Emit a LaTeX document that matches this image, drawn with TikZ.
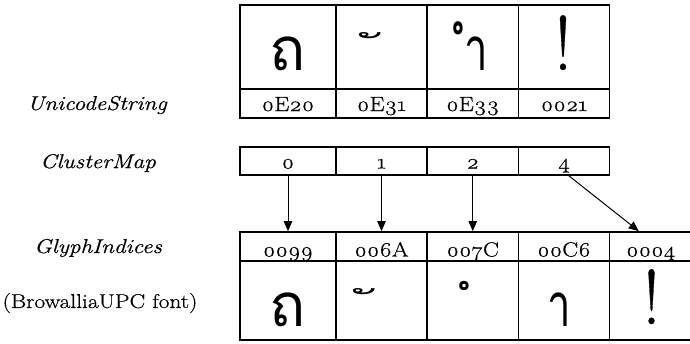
\documentclass[tikz,border=0pt]{standalone}
\usepackage{fontspec}
\setmainfont{Latin Modern Roman}[Numbers=OldStyle, FakeStretch=1.17, FakeBold=0.5]
\newfontfamily\thaifont[Script=Thai]{Loma}
\usetikzlibrary{arrows.meta}
\begin{document}
\begin{tikzpicture}[x=1pt,y=-1pt,
  box/.style={draw=black, line width=1.8pt, inner sep=0pt, font=\fontsize{20.5}{24}\selectfont, text height=16pt, text depth=1pt},
  gbox/.style={box, text height=20pt, text depth=0pt},
  lbl/.style={font=\fontsize{20}{24}\selectfont\itshape},
  glyph/.style={font=\thaifont\fontsize{60}{70}\selectfont, inner sep=0pt, anchor=base, text depth=0pt},
  bang/.style={font=\fontsize{77}{80}\selectfont, inner sep=0pt, anchor=base, text depth=0pt},
  arr/.style={line width=1pt, -{Triangle[length=10pt,width=8.5pt]}}]
\useasboundingbox (0,0) rectangle (690,343);
% UnicodeString table
\node[box, minimum width=96pt, minimum height=84pt] (u0) at (288,47) {};
\node[box, minimum width=91pt, minimum height=84pt] (u1) at (381.5,47) {};
\node[box, minimum width=91.5pt, minimum height=84pt] (u2) at (472.75,47) {};
\node[box, minimum width=91pt, minimum height=84pt] (u3) at (564,47) {};
\node[box, minimum width=96pt, minimum height=29pt] (c0) at (288,103.5) {0E20};
\node[box, minimum width=91pt, minimum height=29pt] (c1) at (381.5,103.5) {0E31};
\node[box, minimum width=91.5pt, minimum height=29pt] (c2) at (472.75,103.5) {0E33};
\node[box, minimum width=91pt, minimum height=29pt] (c3) at (564,103.5) {0021};
% ClusterMap
\node[box, minimum width=96pt, minimum height=28pt] (m0) at (288,161) {0};
\node[box, minimum width=91pt, minimum height=28pt] (m1) at (381.5,161) {1};
\node[box, minimum width=91.5pt, minimum height=28pt] (m2) at (472.75,161) {2};
\node[box, minimum width=91pt, minimum height=28pt] (m3) at (564,161) {4};
% GlyphIndices
\node[gbox, minimum width=96pt, minimum height=29pt] (g0) at (288,246.5) {0099};
\node[gbox, minimum width=91pt, minimum height=29pt] (g1) at (381.5,246.5) {006A};
\node[gbox, minimum width=91.5pt, minimum height=29pt] (g2) at (472.75,246.5) {007C};
\node[gbox, minimum width=91pt, minimum height=29pt] (g3) at (564,246.5) {00C6};
\node[gbox, minimum width=82.5pt, minimum height=29pt] (g4) at (650.75,246.5) {0004};
\node[box, minimum width=96pt, minimum height=79pt] (h0) at (288,300.5) {};
\node[box, minimum width=91pt, minimum height=79pt] (h1) at (381.5,300.5) {};
\node[box, minimum width=91.5pt, minimum height=79pt] (h2) at (472.75,300.5) {};
\node[box, minimum width=91pt, minimum height=79pt] (h3) at (564,300.5) {};
\node[box, minimum width=82.5pt, minimum height=79pt] (h4) at (650.75,300.5) {};
% glyphs
\node[glyph] (t0) at (288,70) {ถ};
\node[glyph] (t1) at (372,56) {\makebox[18pt][r]{\scalebox{1}[0.5]{ั}}};
\node[glyph] (t2) at (476.5,70) {\scalebox{0.7}[1]{ำ}};
\node[bang] (t3) at (563,70) {\scalebox{0.8}[1]{!}};
\node[glyph] (b0) at (288,326) {ถ};
\node[glyph] (b1) at (366,312) {\makebox[18pt][r]{\scalebox{1}[0.5]{ั}}};
\node[glyph] (b2) at (463,315) {\makebox[14pt][r]{\scalebox{0.7}{ํ}}};
\node[glyph] (b3) at (559,326) {\scalebox{0.7}[1]{า}};
\node[bang] (b4) at (651.5,324) {\scalebox{0.8}[1]{!}};
% labels
\node[lbl] (lu) at (97,105) {UnicodeString};
\node[lbl] (lc) at (98,163) {ClusterMap};
\node[lbl] (lg) at (98,248) {GlyphIndices};
\node[font=\fontsize{20}{24}\selectfont] (lf) at (100,303) {(BrowalliaUPC font)};
% arrows
\draw[arr] (m0.south) -- (g0.north);
\draw[arr] (m1.south) -- (g1.north);
\draw[arr] (m2.south) -- (g2.north);
\draw[arr] ([xshift=5pt]m3.south) -- ([xshift=-12pt]g4.north);
\end{tikzpicture}
\end{document}
